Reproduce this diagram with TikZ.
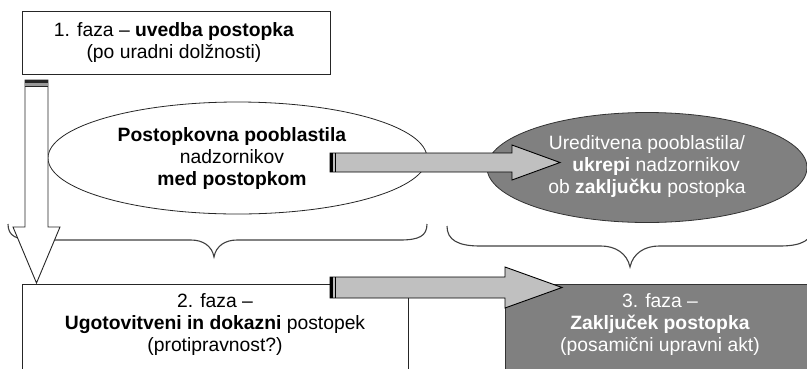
\documentclass[tikz,border=0pt]{standalone}
\usepackage{fontspec}
\setmainfont{Liberation Sans}
\usetikzlibrary{shapes.geometric}
\definecolor{lightgr}{HTML}{C0C0C0}
\definecolor{darkgr}{HTML}{808080}
\definecolor{outl}{HTML}{262626}
\begin{document}
\begin{tikzpicture}[x=1pt,y=-1pt,
  txt/.style={font=\fontsize{19.3}{22}\selectfont, align=center, inner sep=0pt},
  boxline/.style={draw=outl, line width=1pt},
  bracestyle/.style={draw=black!75, line width=1.1pt},
  grayarrow/.style={fill=lightgr, draw=black, line width=0.9pt, line join=miter},
  whitearrow/.style={fill=white, draw=black!85, line width=0.9pt, line join=miter}]
\useasboundingbox (0,0) rectangle (807,368);
\clip (0,0) rectangle (807,368);

% phase 1 box
\node[boxline, fill=white, minimum width=308pt, minimum height=63pt, inner sep=0pt] (box1) at (176,42.5) {};
\node[txt] (t1) at (174,42.5) {1. faza -- \textbf{uvedba postopka}\\(po uradni dolžnosti)};

% ellipse 1
\node[ellipse, boxline, line width=0.8pt, fill=white, minimum width=379pt, minimum height=112pt, inner sep=0pt] (ell1) at (237.5,158) {};
\node[txt] (t2) at (232,159) {\textbf{Postopkovna pooblastila}\\nadzornikov\\\textbf{med postopkom}};

% ellipse 2
\node[ellipse, draw=black!80, line width=0.8pt, fill=darkgr, minimum width=320pt, minimum height=110pt, inner sep=0pt] (ell2) at (647,167.5) {};
\node[txt, text=white] (t3) at (647,167) {Ureditvena pooblastila/\\\hspace*{18pt}\textbf{ukrepi} nadzornikov\\ob \textbf{zaključku} postopka};

% braces
\draw[bracestyle] (8,224) .. controls (8,236) and (16,240) .. (35,240) -- (191,240)
  .. controls (203,240) and (212,246) .. (214,257) .. controls (216,246) and (225,240) .. (237,240)
  -- (400,240) .. controls (419,240) and (427,236) .. (427,224);
\draw[bracestyle] (447,226) .. controls (447,240) and (458,246) .. (480,246) -- (601,246)
  .. controls (615,246) and (627,253) .. (630,267) .. controls (633,253) and (645,246) .. (659,246)
  -- (780,246) .. controls (802,246) and (813,240) .. (813,226);

% down arrow (phase 1 -> phase 2)
\path[whitearrow] (25,80) -- (48,80) -- (48,227) -- (60,227) -- (36.5,283) -- (13,227) -- (25,227) -- cycle;
\fill[black!85] (25,80) rectangle (48,83);
\fill[black!40] (25,83) rectangle (48,85.5);
\draw[black!85, line width=0.9pt] (25,86) -- (48,86);

% phase 2 box
\node[boxline, fill=white, minimum width=386pt, minimum height=100pt, inner sep=0pt, anchor=north west] (box2) at (22,284) {};
\node[txt] (t4) at (215,325) {2. faza --\\\textbf{Ugotovitveni in dokazni} postopek\\(protipravnost?)};

% phase 3 box
\node[draw=black!80, line width=0.8pt, fill=darkgr, minimum width=320pt, minimum height=100pt, inner sep=0pt, anchor=north west] (box3) at (505,284) {};
\node[txt, text=white] (t5) at (660,325) {3. faza --\\\textbf{Zaključek postopka}\\(posamični upravni akt)};

% gray arrow 1 (ellipse 1 -> ellipse 2)
\path[grayarrow] (330,153) -- (512,153) -- (512,145) -- (560,162.5) -- (512,180) -- (512,172) -- (330,172) -- cycle;
\fill[black] (330,153) rectangle (332.5,172);
\draw[black, line width=0.9pt] (335.5,153) -- (335.5,172);

% gray arrow 2 (phase 2 -> phase 3)
\path[grayarrow] (330,277) -- (505,277) -- (505,267) -- (562,287.5) -- (505,308) -- (505,298) -- (330,298) -- cycle;
\fill[black] (330,277) rectangle (332.5,298);
\draw[black, line width=0.9pt] (335.5,277) -- (335.5,298);
\end{tikzpicture}
\end{document}
